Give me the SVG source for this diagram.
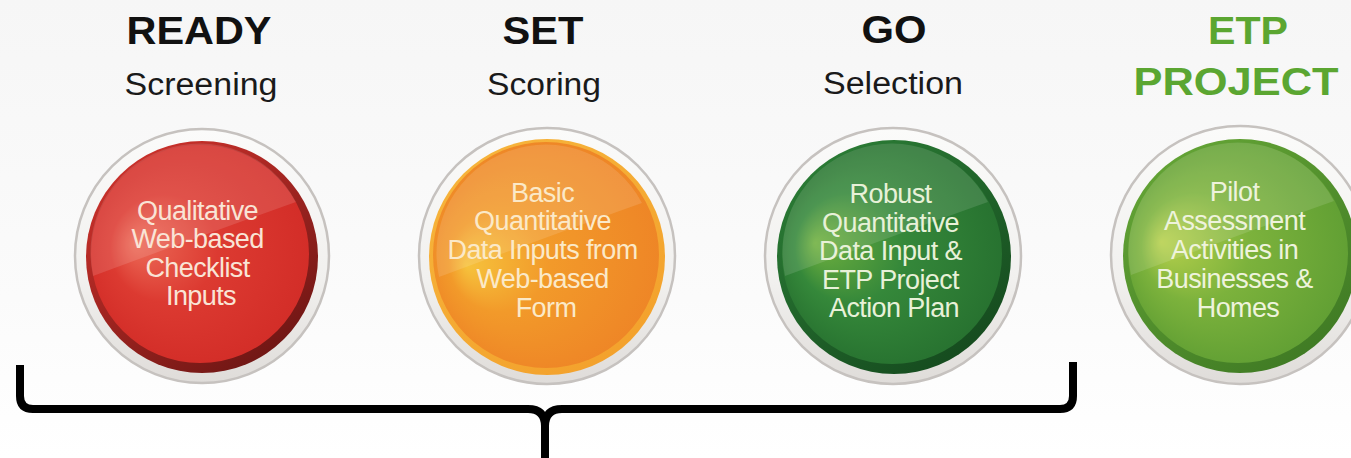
<svg xmlns="http://www.w3.org/2000/svg" width="1351" height="458" viewBox="0 0 1351 458">
  <defs>
    <style>
      .title { font-family: "Liberation Sans", Arial, sans-serif; font-weight: bold; font-size: 39px; fill: #111; text-anchor: middle; }
      .title.green { fill: #5ba631; }
      .sub { font-family: "Liberation Sans", Arial, sans-serif; font-size: 31px; fill: #1a1a1a; text-anchor: middle; }
      .body { font-family: "Liberation Sans", Arial, sans-serif; font-size: 27px; text-anchor: middle; letter-spacing: -0.6px; }
      .ring { fill: url(#ringFill); stroke: #c6c2bf; stroke-width: 2.5; }
      .gloss { fill: #ffffff; opacity: 0.12; }
      .brace { fill: none; stroke: #000; stroke-width: 8; stroke-linecap: butt; stroke-linejoin: round; }
    </style>

    <linearGradient id="bg" x1="0" y1="0" x2="0" y2="1">
      <stop offset="0" stop-color="#f6f6f6"/>
      <stop offset="0.65" stop-color="#fbfbfb"/>
      <stop offset="1" stop-color="#ffffff"/>
    </linearGradient>

    <linearGradient id="ringFill" x1="0" y1="0" x2="0" y2="1">
      <stop offset="0" stop-color="#fbfbfa"/>
      <stop offset="0.6" stop-color="#f1f0ee"/>
      <stop offset="1" stop-color="#dfdcd9"/>
    </linearGradient>

    <!-- rim gradients (darker toward lower right) -->
    <linearGradient id="redRim" x1="0.2" y1="0.1" x2="0.8" y2="0.95">
      <stop offset="0" stop-color="#c8302a"/>
      <stop offset="1" stop-color="#6e1614"/>
    </linearGradient>
    <linearGradient id="orangeRim" x1="0.2" y1="0.1" x2="0.8" y2="0.95">
      <stop offset="0" stop-color="#f6b33a"/>
      <stop offset="1" stop-color="#f3a12c"/>
    </linearGradient>
    <linearGradient id="greenRim" x1="0.2" y1="0.1" x2="0.8" y2="0.95">
      <stop offset="0" stop-color="#2a7a34"/>
      <stop offset="1" stop-color="#154a1e"/>
    </linearGradient>
    <linearGradient id="limeRim" x1="0.2" y1="0.1" x2="0.8" y2="0.95">
      <stop offset="0" stop-color="#62a234"/>
      <stop offset="1" stop-color="#3f7a24"/>
    </linearGradient>

    <!-- disc faces -->
    <radialGradient id="redFace" cx="0.5" cy="0.5" r="0.55" fx="0.2" fy="0.45">
      <stop offset="0" stop-color="#ec6a57"/>
      <stop offset="0.45" stop-color="#dc3a31"/>
      <stop offset="1" stop-color="#d22c27"/>
    </radialGradient>
    <radialGradient id="orangeFace" cx="0.5" cy="0.5" r="0.55" fx="0.15" fy="0.55">
      <stop offset="0" stop-color="#f6c23c"/>
      <stop offset="0.4" stop-color="#f29a2a"/>
      <stop offset="1" stop-color="#ee8426"/>
    </radialGradient>
    <radialGradient id="greenFace" cx="0.5" cy="0.5" r="0.55" fx="0.15" fy="0.45">
      <stop offset="0" stop-color="#6fb03e"/>
      <stop offset="0.45" stop-color="#35883a"/>
      <stop offset="1" stop-color="#26702f"/>
    </radialGradient>
    <radialGradient id="limeFace" cx="0.5" cy="0.5" r="0.55" fx="0.15" fy="0.45">
      <stop offset="0" stop-color="#b6d04c"/>
      <stop offset="0.45" stop-color="#7cb23c"/>
      <stop offset="1" stop-color="#5f9e33"/>
    </radialGradient>

    <!-- highlight sweep across the upper-left of a disc, centred on the origin -->
    <path id="sweep" d="M -107 22 A 109 109 0 0 1 96 -52 Q 20 -25 -107 22 Z"/>
  </defs>

  <rect width="1351" height="458" fill="url(#bg)"/>

  <!-- READY -->
  <g id="ready">
    <text class="title" x="199" y="44" textLength="145" lengthAdjust="spacingAndGlyphs">READY</text>
    <text class="sub" x="201" y="95" textLength="153" lengthAdjust="spacingAndGlyphs">Screening</text>
    <circle class="ring" cx="202" cy="256" r="127"/>
    <circle cx="202" cy="257" r="116" fill="url(#redRim)"/>
    <circle cx="200" cy="254" r="109" fill="url(#redFace)"/>
    <use href="#sweep" class="gloss" x="200" y="254"/>
    <text class="body" fill="#f9e4d6">
      <tspan x="201" y="220">Qualitative</tspan>
      <tspan x="201" y="248">Web-based</tspan>
      <tspan x="201" y="277">Checklist</tspan>
      <tspan x="201" y="305">Inputs</tspan>
    </text>
  </g>

  <!-- SET -->
  <g id="set">
    <text class="title" x="543" y="44" textLength="81" lengthAdjust="spacingAndGlyphs">SET</text>
    <text class="sub" x="544" y="95" textLength="114" lengthAdjust="spacingAndGlyphs">Scoring</text>
    <circle class="ring" cx="547" cy="256" r="128"/>
    <circle cx="547" cy="257" r="118" fill="url(#orangeRim)"/>
    <circle cx="546" cy="255" r="113" fill="url(#orangeFace)"/>
    <use href="#sweep" class="gloss" x="546" y="255"/>
    <text class="body" fill="#fbe9c8">
      <tspan x="546" y="202">Basic</tspan>
      <tspan x="546" y="230">Quantitative</tspan>
      <tspan x="546" y="259">Data Inputs from</tspan>
      <tspan x="546" y="288">Web-based</tspan>
      <tspan x="546" y="317">Form</tspan>
    </text>
  </g>

  <!-- GO -->
  <g id="go">
    <text class="title" x="894" y="43" textLength="65" lengthAdjust="spacingAndGlyphs">GO</text>
    <text class="sub" x="893" y="94" textLength="140" lengthAdjust="spacingAndGlyphs">Selection</text>
    <circle class="ring" cx="893" cy="256" r="128"/>
    <circle cx="894" cy="257" r="117" fill="url(#greenRim)"/>
    <circle cx="892" cy="254" r="110" fill="url(#greenFace)"/>
    <use href="#sweep" class="gloss" x="892" y="254"/>
    <text class="body" fill="#e8f1d8">
      <tspan x="894" y="203">Robust</tspan>
      <tspan x="894" y="232">Quantitative</tspan>
      <tspan x="894" y="260">Data Input &amp;</tspan>
      <tspan x="894" y="289">ETP Project</tspan>
      <tspan x="894" y="317">Action Plan</tspan>
    </text>
  </g>

  <!-- ETP PROJECT -->
  <g id="etp-project">
    <text class="title green" x="1248" y="44" textLength="80" lengthAdjust="spacingAndGlyphs">ETP</text>
    <text class="title green" x="1236" y="95" textLength="205" lengthAdjust="spacingAndGlyphs">PROJECT</text>
    <circle class="ring" cx="1240" cy="255" r="129"/>
    <circle cx="1240" cy="256" r="117" fill="url(#limeRim)"/>
    <circle cx="1238" cy="253" r="110" fill="url(#limeFace)"/>
    <use href="#sweep" class="gloss" x="1238" y="253"/>
    <text class="body" fill="#eef3dc">
      <tspan x="1238" y="201">Pilot</tspan>
      <tspan x="1238" y="230">Assessment</tspan>
      <tspan x="1238" y="259">Activities in</tspan>
      <tspan x="1238" y="288">Businesses &amp;</tspan>
      <tspan x="1238" y="317">Homes</tspan>
    </text>
  </g>

  <!-- brace grouping the first three stages -->
  <g id="connectors">
    <path class="brace" d="M 20 365 V 396 Q 20 409 33 409 H 528 Q 545 409 545 426 V 458"/>
    <path class="brace" d="M 1073 362 V 396 Q 1073 409 1060 409 H 562 Q 545 409 545 426"/>
  </g>
</svg>
